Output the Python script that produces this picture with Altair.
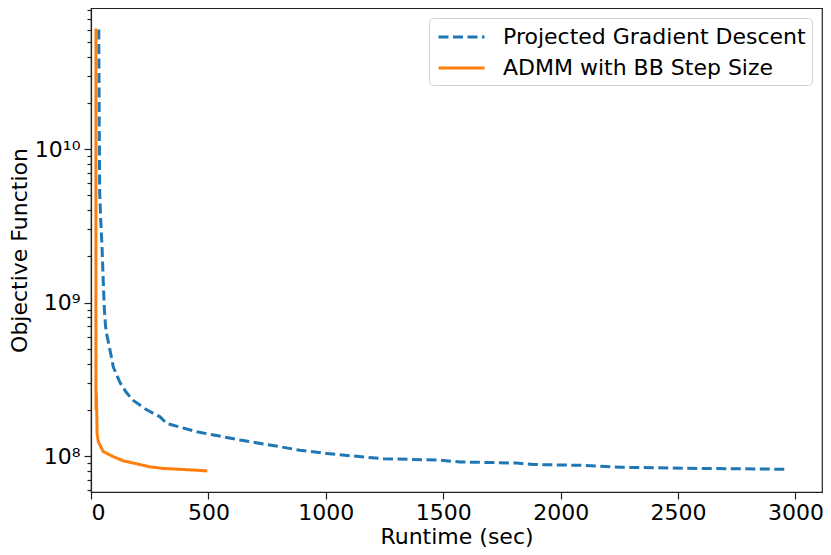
import altair as alt
import pandas as pd

# Projected Gradient Descent (runtime sec, objective)
pgd_x = [33, 35, 37, 42, 47, 52, 57, 62, 67, 81, 95, 124, 150, 180, 237, 294, 322,
         450, 635, 805, 890, 1004, 1117, 1245, 1486, 1572, 1813, 1884, 2083, 2253,
         2594, 2963]
pgd_y = [6.0e10, 1.5e10, 5.2e9, 3.3e9, 2.3e9, 1.4e9, 9.0e8, 7.0e8, 6.2e8, 4.9e8,
         3.8e8, 3.0e8, 2.6e8, 2.3e8, 2.0e8, 1.8e8, 1.63e8, 1.44e8, 1.27e8, 1.15e8,
         1.09e8, 1.04e8, 1.0e8, 9.6e7, 9.4e7, 9.15e7, 9.0e7, 8.8e7, 8.7e7, 8.45e7,
         8.3e7, 8.2e7]

# ADMM with BB step size
admm_x = [21, 21, 23, 26, 31, 52, 95, 138, 194, 251, 308, 407, 495]
admm_y = [6.1e10, 2.0e8, 2.6e8, 1.4e8, 1.24e8, 1.07e8, 9.9e7, 9.3e7, 8.9e7, 8.5e7,
          8.3e7, 8.15e7, 8.0e7]

series = ["Projected Gradient Descent", "ADMM with BB Step Size"]
x_ticks = [0, 500, 1000, 1500, 2000, 2500, 3000]
y_major = [1e8, 1e9, 1e10]
y_minor = [6e7, 7e7, 8e7, 9e7,
           2e8, 3e8, 4e8, 5e8, 6e8, 7e8, 8e8, 9e8,
           2e9, 3e9, 4e9, 5e9, 6e9, 7e9, 8e9, 9e9,
           2e10, 3e10, 4e10, 5e10, 6e10, 7e10, 8e10]

rows = []
for i, (a, b) in enumerate(zip(pgd_x, pgd_y)):
    rows.append({"runtime": a, "obj": b, "method": series[0], "order": i})
for i, (a, b) in enumerate(zip(admm_x, admm_y)):
    rows.append({"runtime": a, "obj": b, "method": series[1], "order": i})
df = pd.DataFrame(rows)

FONT = "DejaVu Sans"
FS = 22
y_dom = [5.83e7, 8.29e10]

base = alt.Chart(df)

lines = base.mark_line(strokeWidth=3, clip=True).encode(
    x=alt.X("runtime:Q", scale=alt.Scale(domain=[0, 3113], nice=False, zero=False),
            axis=alt.Axis(values=x_ticks, title="Runtime (sec)", format="d",
                          labelPadding=3, titlePadding=3)),
    y=alt.Y("obj:Q", scale=alt.Scale(type="log", domain=y_dom, nice=False),
            axis=alt.Axis(values=y_major, title="Objective Function",
                          labelExpr="datum.value == 1e10 ? '10¹⁰' : (datum.value == 1e9 ? '10⁹' : '10⁸')",
                          labelPadding=4, titlePadding=3)),
    color=alt.Color("method:N", scale=alt.Scale(domain=series, range=["#1f77b4", "#ff7f0e"]),
                    legend=alt.Legend(title=None)),
    strokeDash=alt.StrokeDash("method:N", scale=alt.Scale(domain=series, range=[[10, 4.5], [1, 0]]),
                              legend=alt.Legend(title=None)),
    order="order:Q",
)

minor = base.mark_line(opacity=0).encode(
    x="runtime:Q",
    y=alt.Y("obj:Q", scale=alt.Scale(type="log", domain=y_dom, nice=False),
            axis=alt.Axis(values=y_minor, orient="left", labels=False, title=None,
                          tickSize=4, domain=False)),
)

chart = alt.layer(lines, minor).resolve_axis(y="independent").properties(
    width=731, height=484,
    autosize=alt.AutoSizeParams(type="none"),
    padding={"left": 83, "top": 0, "right": 1, "bottom": 55},
).configure_view(
    stroke="#222222", strokeWidth=1.2
).configure_axis(
    grid=False, labelFont=FONT, titleFont=FONT, labelFontSize=FS, titleFontSize=FS,
    titleFontWeight="normal", labelColor="black", titleColor="black",
    domainColor="#222222", tickColor="#222222", domainWidth=1.2, tickWidth=1.2,
    tickSize=7,
).configure_legend(
    orient="top-right", offset=10, padding=6, strokeColor="#d0d0d0", cornerRadius=4,
    fillColor="white", labelFont=FONT, labelFontSize=FS, labelColor="black",
    symbolType="M-0.826,0H3.174", symbolSize=529, symbolStrokeWidth=3, labelOffset=42,
    rowPadding=7, labelLimit=500,
)

chart.save("out.html", embed_options={"renderer": "svg", "actions": False})
